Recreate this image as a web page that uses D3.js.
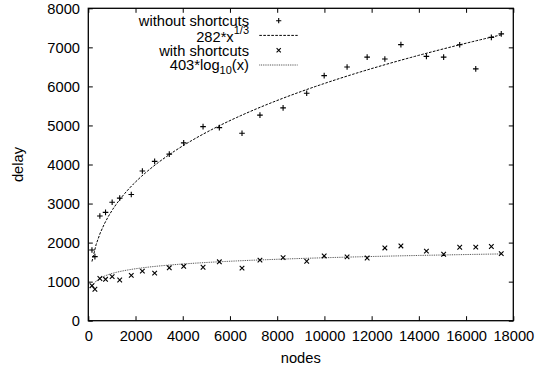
<!DOCTYPE html>
<html><head><meta charset="utf-8">
<script src="https://cdn.jsdelivr.net/npm/d3@7"></script>
<style>
html,body{margin:0;padding:0;background:#fff;}
svg text{font-family:"Liberation Sans",Arial,sans-serif;fill:#000;}
</style></head>
<body>
<svg id="c" width="545" height="366"></svg>
<script>
// ---- data ----
const nodes = [155, 280, 490, 730, 1010, 1330, 1820, 2290, 2810, 3430, 4040, 4860, 5550, 6510, 7270, 8250, 9250, 9990, 10960, 11810, 12560, 13240, 14320, 15050, 15730, 16410, 17070, 17490];
const withoutShortcuts = [1810, 1640, 2680, 2775, 3035, 3140, 3230, 3835, 4080, 4265, 4555, 4970, 4945, 4800, 5265, 5450, 5825, 6277, 6495, 6750, 6700, 7070, 6770, 6750, 7065, 6450, 7255, 7345];
const withShortcuts = [896, 805, 1080, 1060, 1128, 1043, 1160, 1270, 1218, 1355, 1393, 1368, 1508, 1345, 1550, 1615, 1522, 1658, 1636, 1606, 1863, 1914, 1782, 1701, 1880, 1884, 1900, 1718];
// fitted curves as labelled in the chart: 282*x^(1/3) and 403*log10(x)
const cubeFitCoef = [282];
const logFitCoef = [403];
const xTicks = [0, 2000, 4000, 6000, 8000, 10000, 12000, 14000, 16000, 18000];
const yTicks = [0, 1000, 2000, 3000, 4000, 5000, 6000, 7000, 8000];

// ---- layout ----
const L = 88.3, R = 513.3, T = 8.3, B = 320.7;
const FS = "14.7px";
const svg = d3.select("#c");
const x = d3.scaleLinear().domain([0, 18000]).range([L, R]);
const y = d3.scaleLinear().domain([0, 8000]).range([B, T]);
const tk = 4.5;

// fit curves sampled densely between the data extremes
const xmin = d3.min(nodes), xmax = d3.max(nodes);
const samples = d3.range(100).map(i => xmin + (xmax - xmin) * i / 99);
const cubeFit = samples.map(v => [v, cubeFitCoef[0] * Math.cbrt(v)]);
const logFit = samples.map(v => [v, logFitCoef[0] * Math.log10(v)]);

const line = d3.line().x(d => x(d[0])).y(d => y(d[1]));
svg.append("path").attr("d", line(cubeFit)).attr("fill", "none")
  .attr("stroke", "#000").attr("stroke-width", 1).attr("stroke-dasharray", "2.6,1.4");
svg.append("path").attr("d", line(logFit)).attr("fill", "none")
  .attr("stroke", "#444").attr("stroke-width", 1).attr("stroke-dasharray", "0.9,0.9");

// markers
const plusSym = (g, cx, cy, s) => g.append("path")
  .attr("d", `M${cx - s},${cy}H${cx + s}M${cx},${cy - s}V${cy + s}`)
  .attr("stroke", "#000").attr("stroke-width", 1.1).attr("fill", "none");
const crossSym = (g, cx, cy, s) => g.append("path")
  .attr("d", `M${cx - s},${cy - s}L${cx + s},${cy + s}M${cx - s},${cy + s}L${cx + s},${cy - s}`)
  .attr("stroke", "#000").attr("stroke-width", 1.1).attr("fill", "none");

const pts = svg.append("g");
nodes.forEach((n, i) => plusSym(pts, x(n), y(withoutShortcuts[i]), 2.8));
nodes.forEach((n, i) => crossSym(pts, x(n), y(withShortcuts[i]), 2.3));

// axes with mirrored inward ticks
const axG = svg.append("g");
const axBottom = d3.axisBottom(x).tickValues(xTicks).tickSize(-tk).tickPadding(0).tickFormat(d3.format("d"));
const axTop = d3.axisTop(x).tickValues(xTicks).tickSize(-tk).tickFormat("");
const axLeft = d3.axisLeft(y).tickValues(yTicks).tickSize(-tk).tickFormat(d3.format("d"));
const axRight = d3.axisRight(y).tickValues(yTicks).tickSize(-tk).tickFormat("");
const gb = axG.append("g").attr("transform", `translate(0,${B})`).call(axBottom);
const gt = axG.append("g").attr("transform", `translate(0,${T})`).call(axTop);
const gl = axG.append("g").attr("transform", `translate(${L},0)`).call(axLeft);
const gr = axG.append("g").attr("transform", `translate(${R},0)`).call(axRight);
[gb, gt, gl, gr].forEach(g => {
  g.select(".domain").remove();
  g.selectAll(".tick line").attr("stroke", "#000").attr("stroke-width", 1);
});
gb.selectAll(".tick text").attr("dy", null).attr("y", 341 - B)
  .style("font-size", FS).attr("fill", "#000");
gl.selectAll(".tick text").attr("x", 80 - L).attr("dy", "0.36em")
  .style("font-size", FS).attr("fill", "#000");
[gt, gr].forEach(g => g.selectAll(".tick text").remove());

svg.append("rect").attr("x", L).attr("y", T).attr("width", R - L).attr("height", B - T)
  .attr("fill", "none").attr("stroke", "#000").attr("stroke-width", 1.3);

// axis titles
svg.append("text").attr("x", (L + R) / 2).attr("y", 363).attr("text-anchor", "middle")
  .style("font-size", FS).text("nodes");
svg.append("text").attr("transform", `translate(23,${(T + B) / 2}) rotate(-90)`)
  .attr("text-anchor", "middle").style("font-size", FS).text("delay");

// legend
const lg = svg.append("g");
const tx = 249, s0 = 259.3, s1 = 297.7, mx = 278.7;
const rows = [20.7, 35.4, 50.3, 65];
lg.append("text").attr("x", tx).attr("y", rows[0] + 5.3).attr("text-anchor", "end").style("font-size", FS).text("without shortcuts");
plusSym(lg, mx, rows[0], 2.6);
const t2 = lg.append("text").attr("x", tx).attr("y", rows[1] + 6.3).attr("text-anchor", "end").style("font-size", FS);
t2.append("tspan").text("282*x");
t2.append("tspan").attr("dy", -8).style("font-size", "11px").text("1/3");
lg.append("line").attr("x1", s0).attr("x2", s1).attr("y1", rows[1]).attr("y2", rows[1])
  .attr("stroke", "#000").attr("stroke-dasharray", "2.6,1.4");
lg.append("text").attr("x", tx).attr("y", rows[2] + 5.5).attr("text-anchor", "end").style("font-size", FS).text("with shortcuts");
crossSym(lg, mx, rows[2], 2.1);
const t4 = lg.append("text").attr("x", tx).attr("y", rows[3] + 5).attr("text-anchor", "end").style("font-size", FS);
t4.append("tspan").text("403*log");
t4.append("tspan").attr("dy", 4).style("font-size", "11px").text("10");
t4.append("tspan").attr("dy", -4).text("(x)");
lg.append("line").attr("x1", s0).attr("x2", s1).attr("y1", rows[3]).attr("y2", rows[3])
  .attr("stroke", "#444").attr("stroke-dasharray", "0.9,0.9");
</script>
</body></html>
